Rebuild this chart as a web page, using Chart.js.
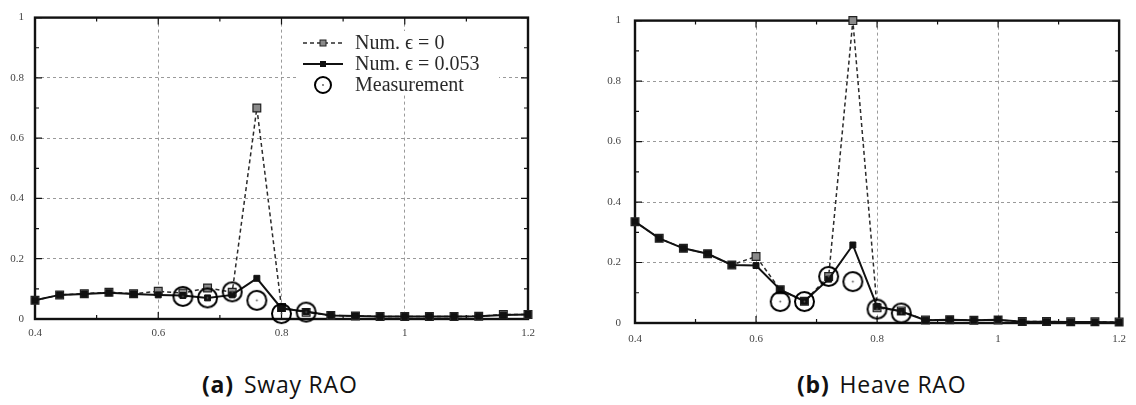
<!DOCTYPE html>
<html>
<head>
<meta charset="utf-8">
<title>Sway and Heave RAO</title>
<script src="https://cdn.jsdelivr.net/npm/chart.js@4/dist/chart.umd.min.js"></script>
<style>
  body {
    margin: 0;
    width: 1136px;
    height: 405px;
    background: #ffffff;
    position: relative;
    overflow: hidden;
  }
  canvas {
    position: absolute;
    top: 0;
    filter: blur(0.35px);
  }
  #sway { left: 0; }
  #heave { left: 590px; }
  .caption {
    position: absolute;
    top: 369px;
    font-family: 'Open Sans', 'Noto Sans', sans-serif;
    font-size: 23px;
    letter-spacing: 0.8px;
    line-height: 30px;
    color: #111;
    white-space: nowrap;
  }
  .caption b { font-weight: 700; margin-right: 10px; }
</style>
</head>
<body>
<canvas id="sway" width="560" height="345"></canvas>
<canvas id="heave" width="546" height="345"></canvas>
<div class="caption" style="left:202px"><b>(a)</b>Sway RAO</div>
<div class="caption" style="left:797px"><b>(b)</b>Heave RAO</div>

<script>
// wave frequency samples shared by both numerical runs
const freq = [0.4, 0.44, 0.48, 0.52, 0.56, 0.6, 0.64, 0.68, 0.72, 0.76, 0.8,
              0.84, 0.88, 0.92, 0.96, 1.0, 1.04, 1.08, 1.12, 1.16, 1.2];
const measFreq = [0.64, 0.68, 0.72, 0.76, 0.8, 0.84];

const swayEps0   = [0.062, 0.080, 0.084, 0.089, 0.084, 0.092, 0.086, 0.103, 0.089, 0.700, 0.038,
                    0.022, 0.012, 0.010, 0.008, 0.008, 0.008, 0.008, 0.009, 0.015, 0.015];
const swayEps053 = [0.062, 0.080, 0.083, 0.087, 0.083, 0.080, 0.078, 0.070, 0.080, 0.135, 0.035,
                    0.025, 0.012, 0.010, 0.008, 0.008, 0.008, 0.008, 0.009, 0.013, 0.015];
const swayMeas   = [0.075, 0.070, 0.090, 0.062, 0.018, 0.023];

const heaveEps0   = [0.335, 0.280, 0.247, 0.229, 0.192, 0.220, 0.110, 0.072, 0.154, 1.000, 0.050,
                     0.040, 0.010, 0.011, 0.009, 0.010, 0.005, 0.005, 0.004, 0.004, 0.003];
const heaveEps053 = [0.335, 0.280, 0.247, 0.229, 0.192, 0.190, 0.110, 0.072, 0.145, 0.258, 0.055,
                     0.038, 0.009, 0.011, 0.009, 0.011, 0.004, 0.004, 0.003, 0.003, 0.002];
const heaveMeas   = [0.071, 0.071, 0.154, 0.137, 0.046, 0.033];

const xTicks = [0.4, 0.6, 0.8, 1, 1.2];
const yTicks = [0, 0.2, 0.4, 0.6, 0.8, 1];

const seriesNames = ['Num. \u03f5 = 0', 'Num. \u03f5 = 0.053', 'Measurement'];

const pts = (xs, ys) => xs.map((x, i) => ({ x: x, y: ys[i] }));

// open circle with a dot in the middle, used for the measured points
function ringMarker(r) {
  const c = document.createElement('canvas');
  const s = Math.ceil(r * 2 + 4);
  c.width = s; c.height = s;
  const g = c.getContext('2d');
  g.strokeStyle = '#000';
  g.lineWidth = 2;
  g.beginPath();
  g.arc(s / 2, s / 2, r, 0, Math.PI * 2);
  g.stroke();
  g.fillStyle = '#555';
  g.beginPath();
  g.arc(s / 2, s / 2, 0.9, 0, Math.PI * 2);
  g.fill();
  return c;
}
const ring = ringMarker(9.5);
const keyRing = ringMarker(8);

// border box with gnuplot-like inward tics (major + minor) on all four sides
const frameTics = {
  id: 'frameTics',
  beforeDatasetsDraw(chart) {
    const { ctx, chartArea: a, scales } = chart;
    const sx = scales.x, sy = scales.y;
    ctx.save();
    ctx.strokeStyle = '#111';
    ctx.lineWidth = 1.2;
    ctx.beginPath();
    for (let v = 0.4; v <= 1.2001; v += 0.1) {
      const px = sx.getPixelForValue(v);
      const major = Math.abs(Math.round(v * 10) % 2) === 0;
      const len = major ? 7 : 4;
      ctx.moveTo(px, a.bottom); ctx.lineTo(px, a.bottom - len);
      ctx.moveTo(px, a.top); ctx.lineTo(px, a.top + len);
    }
    for (let v = 0; v <= 1.0001; v += 0.1) {
      const py = sy.getPixelForValue(v);
      const major = Math.round(v * 10) % 2 === 0;
      const len = major ? 7 : 4;
      ctx.moveTo(a.left, py); ctx.lineTo(a.left + len, py);
      ctx.moveTo(a.right, py); ctx.lineTo(a.right - len, py);
    }
    ctx.stroke();
    ctx.lineWidth = 2.4;
    ctx.strokeRect(a.left, a.top, a.right - a.left, a.bottom - a.top);
    ctx.restore();
  }
};

// key drawn inside the plot area, top right
const insideKey = {
  id: 'insideKey',
  afterDatasetsDraw(chart, args, opts) {
    if (!opts.show) return;
    const ctx = chart.ctx;
    const ds = chart.data.datasets;
    ctx.save();
    ctx.fillStyle = '#fff';
    ctx.fillRect(opts.x - 4, opts.y - 12, 200, 64);
    ctx.font = "20px 'Liberation Serif', 'DejaVu Serif', serif";
    ctx.textBaseline = 'middle';
    for (let i = 0; i < 3; i++) {
      const y = opts.y + i * 21;
      const x0 = opts.x, x1 = opts.x + 40, xm = (x0 + x1) / 2;
      const d = ds[i];
      if (i < 2) {
        ctx.strokeStyle = d.borderColor;
        ctx.lineWidth = d.borderWidth;
        ctx.setLineDash(d.borderDash || []);
        ctx.beginPath(); ctx.moveTo(x0, y); ctx.lineTo(x1, y); ctx.stroke();
        ctx.setLineDash([]);
        const h = i === 0 ? 3 : 2.5;
        ctx.fillStyle = d.pointBackgroundColor;
        ctx.strokeStyle = d.pointBorderColor;
        ctx.lineWidth = 1;
        ctx.fillRect(xm - h, y - h, 2 * h, 2 * h);
        ctx.strokeRect(xm - h, y - h, 2 * h, 2 * h);
      } else {
        ctx.drawImage(keyRing, xm - keyRing.width / 2, y - keyRing.height / 2);
      }
      ctx.fillStyle = '#2a2a2a';
      ctx.fillText(d.label, opts.x + 52, y + 1);
    }
    ctx.restore();
  }
};

function fmt(v) {
  return String(Number(v.toFixed(2)));
}

function makeChart(id, eps0, eps053, meas, geo) {
  const ctx = document.getElementById(id).getContext('2d');
  return new Chart(ctx, {
    type: 'scatter',
    data: {
      datasets: [
        {
          label: seriesNames[0],
          data: pts(freq, eps0),
          showLine: true,
          borderColor: '#2b2b2b',
          borderWidth: 1.5,
          borderDash: [4, 3],
          pointStyle: 'rect',
          pointRadius: 5.5,
          pointBackgroundColor: '#8a8a8a',
          pointBorderColor: '#222',
          pointBorderWidth: 1.2,
          clip: false,
          order: 3
        },
        {
          label: seriesNames[1],
          data: pts(freq, eps053),
          showLine: true,
          borderColor: '#111',
          borderWidth: 2,
          pointStyle: 'rect',
          pointRadius: 4.2,
          pointBackgroundColor: '#111',
          pointBorderColor: '#111',
          pointBorderWidth: 1,
          clip: false,
          order: 2
        },
        {
          label: seriesNames[2],
          data: pts(measFreq, meas),
          showLine: false,
          pointStyle: ring,
          pointRadius: 10,
          clip: false,
          order: 1
        }
      ]
    },
    options: {
      responsive: false,
      animation: false,
      events: [],
      layout: { padding: { left: 0, top: geo.top, right: geo.right, bottom: 0 } },
      plugins: {
        legend: { display: false },
        tooltip: { enabled: false },
        insideKey: { show: geo.key, x: 303, y: 43 }
      },
      scales: {
        x: {
          type: 'linear',
          min: 0.4,
          max: 1.2,
          afterFit: s => { s.height = geo.xh; },
          afterBuildTicks: s => { s.ticks = xTicks.map(v => ({ value: v })); },
          ticks: {
            padding: geo.xpad,
            color: '#444',
            font: { family: "'Liberation Serif', 'DejaVu Serif', serif", size: 11 },
            callback: v => fmt(v),
            maxRotation: 0
          },
          grid: {
            color: c => (c.tick && (c.tick.value === 0.4 || c.tick.value === 1.2)) ? 'rgba(0,0,0,0)' : '#9a9a9a',
            lineWidth: 1,
            drawTicks: false
          },
          border: { display: false, dash: [3, 3] }
        },
        y: {
          type: 'linear',
          min: 0,
          max: 1,
          afterFit: s => { s.width = geo.yw; },
          afterBuildTicks: s => { s.ticks = yTicks.map(v => ({ value: v })); },
          ticks: {
            padding: geo.ypad,
            color: '#444',
            font: { family: "'Liberation Serif', 'DejaVu Serif', serif", size: 11 },
            callback: v => fmt(v)
          },
          grid: {
            color: c => (c.tick && (c.tick.value === 0 || c.tick.value === 1)) ? 'rgba(0,0,0,0)' : '#9a9a9a',
            lineWidth: 1,
            drawTicks: false
          },
          border: { display: false, dash: [3, 3] }
        }
      }
    },
    plugins: [frameTics, insideKey]
  });
}

makeChart('sway', swayEps0, swayEps053, swayMeas,
  { top: 13, right: 32, yw: 35, xh: 26, xpad: 8, ypad: 11, key: true });
makeChart('heave', heaveEps0, heaveEps053, heaveMeas,
  { top: 20, right: 13, yw: 45, xh: 22, xpad: 10, ypad: 14, key: false });
</script>
</body>
</html>
